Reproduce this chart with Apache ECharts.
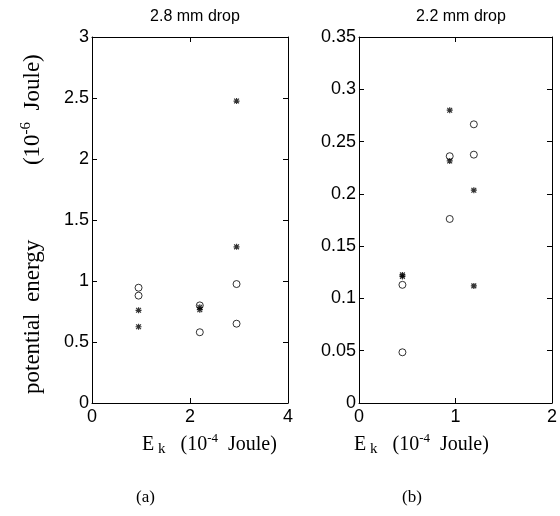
<!DOCTYPE html>
<html>
<head>
<meta charset="utf-8">
<script src="https://cdn.jsdelivr.net/npm/echarts@6/dist/echarts.min.js"></script>
<style>
  html, body { margin: 0; padding: 0; background: #fff; }
  #chart { width: 560px; height: 516px; }
</style>
</head>
<body>
<div id="chart"></div>
<script>
// (a) 2.8 mm drop
var ticksA_x = [0, 2, 4];
var ticksA_y = [0, 0.5, 1, 1.5, 2, 2.5, 3];
var circlesA = [[0.95, 0.945], [0.95, 0.88], [2.2, 0.80], [2.2, 0.58], [2.95, 0.975], [2.95, 0.65]];
var starsA = [[0.95, 0.76], [0.95, 0.625], [2.2, 0.785], [2.2, 0.765], [2.95, 2.475], [2.95, 1.28]];

// (b) 2.2 mm drop
var ticksB_x = [0, 1, 2];
var ticksB_y = [0, 0.05, 0.1, 0.15, 0.2, 0.25, 0.3, 0.35];
var circlesB = [[0.45, 0.113], [0.45, 0.0485], [0.94, 0.236], [0.94, 0.176], [1.19, 0.2665], [1.19, 0.2375]];
var starsB = [[0.45, 0.1225], [0.45, 0.121], [0.94, 0.280], [0.94, 0.2315], [1.19, 0.2035], [1.19, 0.112]];

var titles = ['2.8 mm drop', '2.2 mm drop'];

// asterisk marker
var starPath = 'path://M4,0 L6,0 L6,10 L4,10 Z M0,4 L10,4 L10,6 L0,6 Z ' +
    'M0.3,1.7 L1.7,0.3 L9.7,8.3 L8.3,9.7 Z M8.3,0.3 L9.7,1.7 L1.7,9.7 L0.3,8.3 Z';

var sans = 'Liberation Sans';
var serif = 'Liberation Serif';

var grids = [
    { left: 92, right: 272, top: 37, bottom: 113 },
    { left: 359, right: 7, top: 37, bottom: 113 }
];

function range(t) {
    return { min: t[0], max: t[t.length - 1], interval: t[1] - t[0] };
}

function fmt(ticks) {
    return function (v) {
        for (var i = 0; i < ticks.length; i++) {
            if (Math.abs(ticks[i] - v) < 1e-9) return String(ticks[i]);
        }
        return '';
    };
}

var xAxes = [], yAxes = [];
[[ticksA_x, ticksA_y], [ticksB_x, ticksB_y]].forEach(function (p, gi) {
    var rx = range(p[0]), ry = range(p[1]);
    ['bottom', 'top'].forEach(function (pos) {
        xAxes.push({
            type: 'value', gridIndex: gi, position: pos,
            min: rx.min, max: rx.max, interval: rx.interval,
            splitLine: { show: false },
            axisLine: { show: true, onZero: false, lineStyle: { color: '#000', width: 1 } },
            axisTick: { show: true, inside: true, length: 5, lineStyle: { color: '#000' } },
            axisLabel: {
                show: pos === 'bottom', color: '#000', fontFamily: sans, fontSize: 18, margin: 5,
                formatter: fmt(p[0])
            }
        });
    });
    ['left', 'right'].forEach(function (pos) {
        yAxes.push({
            type: 'value', gridIndex: gi, position: pos,
            min: ry.min, max: ry.max, interval: ry.interval,
            splitLine: { show: false },
            axisLine: { show: true, onZero: false, lineStyle: { color: '#000', width: 1 } },
            axisTick: { show: true, inside: true, length: 5, lineStyle: { color: '#000' } },
            axisLabel: {
                show: pos === 'left', color: '#000', fontFamily: sans, fontSize: 18, margin: 3,
                formatter: fmt(p[1])
            }
        });
    });
});

function circleSeries(data, gi) {
    return {
        type: 'scatter', xAxisIndex: gi * 2, yAxisIndex: gi * 2, data: data,
        symbol: 'circle', symbolSize: 7,
        itemStyle: { color: '#fff', borderColor: '#000', borderWidth: 1 },
        silent: true, z: 3
    };
}
function starSeries(data, gi) {
    return {
        type: 'scatter', xAxisIndex: gi * 2, yAxisIndex: gi * 2, data: data,
        symbol: starPath, symbolSize: 6,
        itemStyle: { color: '#000' },
        silent: true, z: 4
    };
}

var richX = {
    n: { fontFamily: serif, fontSize: 20, color: '#000' },
    sub: { fontFamily: serif, fontSize: 15, color: '#000', verticalAlign: 'bottom', padding: [9, 0, 0, 0] },
    sup: { fontFamily: serif, fontSize: 13, color: '#000', verticalAlign: 'top', padding: [0, 0, 12, 0] }
};
var richY = {
    n: { fontFamily: serif, fontSize: 23, color: '#000' },
    sup: { fontFamily: serif, fontSize: 15, color: '#000', verticalAlign: 'top', padding: [0, 0, 13, 0] }
};

var chart = echarts.init(document.getElementById('chart'));
chart.setOption({
    animation: false,
    backgroundColor: '#fff',
    title: [
        { text: titles[0], left: 190, top: 4, textAlign: 'center',
          textStyle: { fontFamily: sans, fontSize: 16, fontWeight: 'normal', color: '#000' } },
        { text: titles[1], left: 456, top: 4, textAlign: 'center',
          textStyle: { fontFamily: sans, fontSize: 16, fontWeight: 'normal', color: '#000' } }
    ],
    grid: grids,
    xAxis: xAxes,
    yAxis: yAxes,
    series: [
        circleSeries(circlesA, 0), starSeries(starsA, 0),
        circleSeries(circlesB, 1), starSeries(starsB, 1)
    ],
    graphic: [
        { type: 'text', left: 142, top: 432,
          style: { text: '{n|E}{sub| k}{n|   (10}{sup|-4}{n|  Joule)}', rich: richX } },
        { type: 'text', left: 354, top: 432,
          style: { text: '{n|E}{sub| k}{n|   (10}{sup|-4}{n|  Joule)}', rich: richX } },
        { type: 'text', left: 136, top: 489,
          style: { text: '(a)', fontFamily: serif, fontSize: 17, fill: '#000' } },
        { type: 'text', left: 402, top: 489,
          style: { text: '(b)', fontFamily: serif, fontSize: 17, fill: '#000' } },
        { type: 'text', x: 19, y: 394, rotation: Math.PI / 2,
          style: { text: '{n|potential  energy             (10}{sup|-6}{n|  Joule)}', rich: richY } }
    ]
});
</script>
</body>
</html>
